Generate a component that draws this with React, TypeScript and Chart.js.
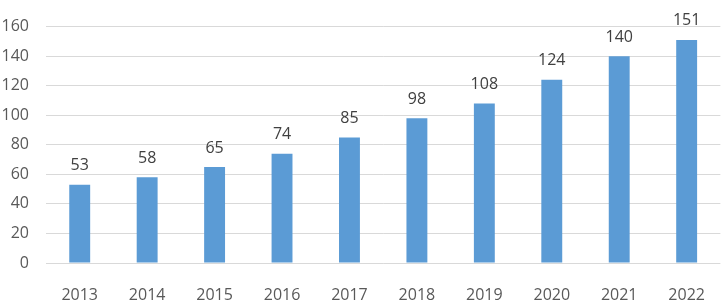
import React, { useEffect, useRef } from "react";
import { Chart, registerables } from "chart.js";

Chart.register(...registerables);

const categories = ["2013", "2014", "2015", "2016", "2017", "2018", "2019", "2020", "2021", "2022"];
const values = [53, 58, 65, 74, 85, 98, 108, 124, 140, 151];
const yMin = 0;
const yMax = 160;
const yStep = 20;

const FONT = "'Open Sans', 'Liberation Sans', Arial, sans-serif";

const dataLabelPlugin = {
  id: "dataLabels",
  afterDatasetsDraw(chart: any) {
    const ctx = chart.ctx;
    const meta = chart.getDatasetMeta(0);
    const ds = chart.data.datasets[0];
    ctx.save();
    ctx.font = `16px ${FONT}`;
    ctx.fillStyle = "#404040";
    ctx.textAlign = "center";
    ctx.textBaseline = "middle";
    meta.data.forEach((bar: any, i: number) => {
      ctx.fillText(String(ds.data[i]), bar.x, bar.y - 19);
    });
    ctx.restore();
  },
};

export default function App() {
  const ref = useRef<HTMLCanvasElement | null>(null);
  useEffect(() => {
    document.body.style.margin = "0";
    if (!ref.current) return;
    const chart = new Chart(ref.current, {
      type: "bar",
      data: {
        labels: categories,
        datasets: [
          {
            data: values,
            backgroundColor: "#5B9BD5",
            borderWidth: 0,
            barPercentage: 0.31,
            categoryPercentage: 1,
          },
        ],
      },
      options: {
        responsive: false,
        animation: false,
        maintainAspectRatio: false,
        layout: { padding: { top: 13, left: 0, right: 1, bottom: 0 } },
        plugins: { legend: { display: false }, title: { display: false }, tooltip: { enabled: false } },
        scales: {
          x: {
            grid: { display: false, drawTicks: false },
            border: { display: false },
            ticks: {
              color: "#595959",
              font: { family: FONT, size: 16 },
              padding: 23,
              maxRotation: 0,
            },
            afterFit(scale: any) {
              scale.height = 40;
            },
          },
          y: {
            min: yMin,
            max: yMax,
            grid: { color: "#D9D9D9", lineWidth: 1, drawTicks: false },
            border: { display: false },
            ticks: {
              stepSize: yStep,
              color: "#595959",
              font: { family: FONT, size: 16 },
              padding: 17,
            },
            afterFit(scale: any) {
              scale.width = 46;
            },
          },
        },
      },
      plugins: [dataLabelPlugin],
    } as any);
    return () => chart.destroy();
  }, []);
  return (
    <div style={{ width: 728, height: 303 }}>
      <canvas ref={ref} width={728} height={303} style={{ display: "block" }} />
    </div>
  );
}
